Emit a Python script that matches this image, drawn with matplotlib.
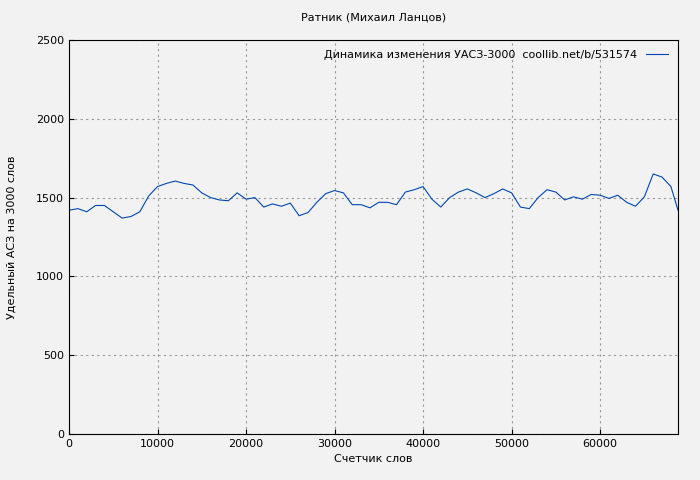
import matplotlib
matplotlib.use('Agg')
import matplotlib.pyplot as plt

asc = [1420, 1430, 1410, 1450, 1450, 1410, 1370, 1380, 1410, 1510,
       1570, 1590, 1605, 1590, 1580, 1530, 1500, 1485, 1480, 1530,
       1490, 1500, 1440, 1460, 1445, 1465, 1385, 1405, 1470, 1525,
       1545, 1530, 1455, 1455, 1435, 1470, 1470, 1455, 1535, 1550,
       1570, 1490, 1440, 1500, 1535, 1555, 1530, 1500, 1525, 1555,
       1530, 1440, 1430, 1500, 1550, 1535, 1485, 1505, 1490, 1520,
       1515, 1495, 1515, 1470, 1445, 1505, 1650, 1630, 1570, 1420]
words = list(range(0, 69000, 1000)) + [68800]

fig = plt.figure(figsize=(7, 4.8), dpi=100, facecolor='#f2f2f2')
ax = fig.add_axes([69/700, 46/480, 609/700, 394/480], facecolor='#f2f2f2')
ax.plot(words, asc, color='#0047b3', lw=0.8, label='Динамика изменения УАСЗ-3000  coollib.net/b/531574')
ax.set_xlim(0, 68800)
ax.set_ylim(0, 2500)
ax.set_xticks(range(0, 68000, 10000))
ax.set_yticks(range(0, 2501, 500))
ax.grid(True, color='#999999', ls=(0, (2, 3)), lw=0.8)
ax.tick_params(labelsize=8, direction='in')
ax.set_title('Ратник (Михаил Ланцов)', fontsize=8, pad=14)
ax.set_xlabel('Счетчик слов', fontsize=8)
ax.set_ylabel('Удельный АСЗ на 3000 слов', fontsize=8, labelpad=14)
ax.legend(loc='upper right', fontsize=8, frameon=False, markerfirst=False)
fig.savefig('out.png', dpi=100, facecolor=fig.get_facecolor())
